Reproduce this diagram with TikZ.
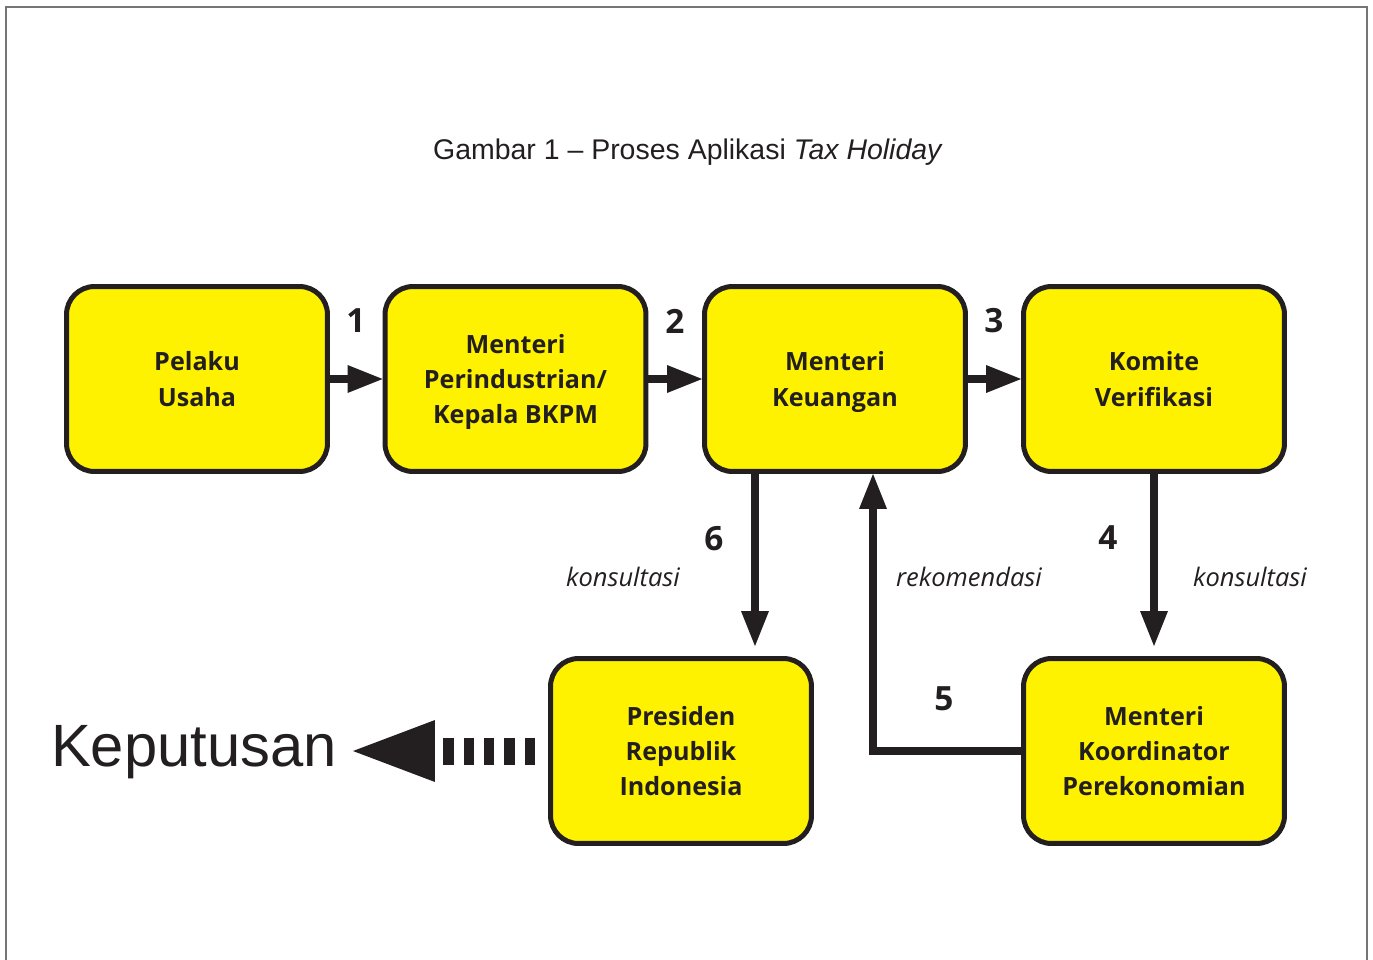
\documentclass[tikz,border=0pt]{standalone}
\usepackage{fontspec}
\setmainfont{Open Sans}
\newfontfamily\capfont{Liberation Sans}
\usepackage{xcolor}
\usetikzlibrary{positioning,calc,arrows.meta}

\definecolor{boxyellow}{HTML}{FFF200}
\definecolor{ink}{HTML}{231F20}
\definecolor{framegray}{HTML}{757575}

\begin{document}
\begin{tikzpicture}[x=0.02cm,y=-0.02cm,
    stage/.style={draw=ink,fill=boxyellow,line width=0.1cm,rounded corners=0.56cm,
        minimum width=5.22cm,minimum height=3.7cm,align=center,text=ink,text depth=0pt,
        font=\fontsize{14.3}{20}\selectfont\bfseries},
    flow/.style={draw=ink,line width=0.16cm,line join=miter,
        -{Triangle[length=0.7cm,width=0.56cm,line width=0pt]}},
    stepnum/.style={text=ink,font=\fontsize{19}{22}\selectfont\bfseries},
    note/.style={text=ink,font=\fontsize{14.5}{17}\selectfont\itshape}]
    \useasboundingbox (0,0) rectangle (1373,960);

    % Frame (open at the bottom)
    \draw[framegray,line width=0.05cm] (6,960) -- (6,7) -- (1367,7) -- (1367,960);

    % Title
    \node[text=ink,font=\capfont\fontsize{16.2}{20}\selectfont] (title) at (688,152)
        {Gambar 1 – Proses Aplikasi \textit{Tax Holiday}};

    % Boxes
    \node[stage] (pelaku) at (197,379) {Pelaku\\Usaha};
    \node[stage] (perind) at (515.5,379) {Menteri\\Perindustrian/\\Kepala BKPM};
    \node[stage] (keu) at (835,379) {Menteri\\Keuangan};
    \node[stage] (komite) at (1154,379) {Komite\\Verifikasi};
    \node[stage] (pres) at (681,751) {Presiden\\Republik\\Indonesia};
    \node[stage] (koord) at (1154,751) {Menteri\\Koordinator\\Perekonomian};
    \node[anchor=east,inner sep=0pt,text=ink,font=\capfont\fontsize{34}{40}\selectfont]
        (kep) at (337,752) {Keputusan};

    % Top row
    \draw[flow] (pelaku) -- (perind);
    \draw[flow] (perind) -- (keu);
    \draw[flow] (keu) -- (komite);
    \node[stepnum] at (356,321) {1};
    \node[stepnum] at (675,321) {2};
    \node[stepnum] at (994,321) {3};

    % Down and back up
    \coordinate (k6) at ($(keu.south)+(-80,0)$);
    \coordinate (k5) at ($(keu.south)+(38,0)$);
    \draw[flow,shorten >=0.2cm] (k6) -- (k6 |- pres.north);
    \draw[flow,shorten >=0.2cm] (komite) -- (koord);
    \draw[flow] (koord.west) -| (k5);
    \node[stepnum] at (1108,538) {4};
    \node[stepnum] at (944,699) {5};
    \node[stepnum] at (714,539) {6};
    \node[note] at (623,577) {konsultasi};
    \node[note] at (969,577) {rekomendasi};
    \node[note] at (1250,577) {konsultasi};

    % Decision
    \draw[ink,line width=0.54cm,dash pattern=on 0.21cm off 0.196cm,
        shorten <=0.26cm,shorten >=0.32cm,
        -{Triangle[length=1.64cm,width=1.24cm,line width=0pt]}]
        (pres.west) -- (pres.west -| kep.east);
\end{tikzpicture}
\end{document}
